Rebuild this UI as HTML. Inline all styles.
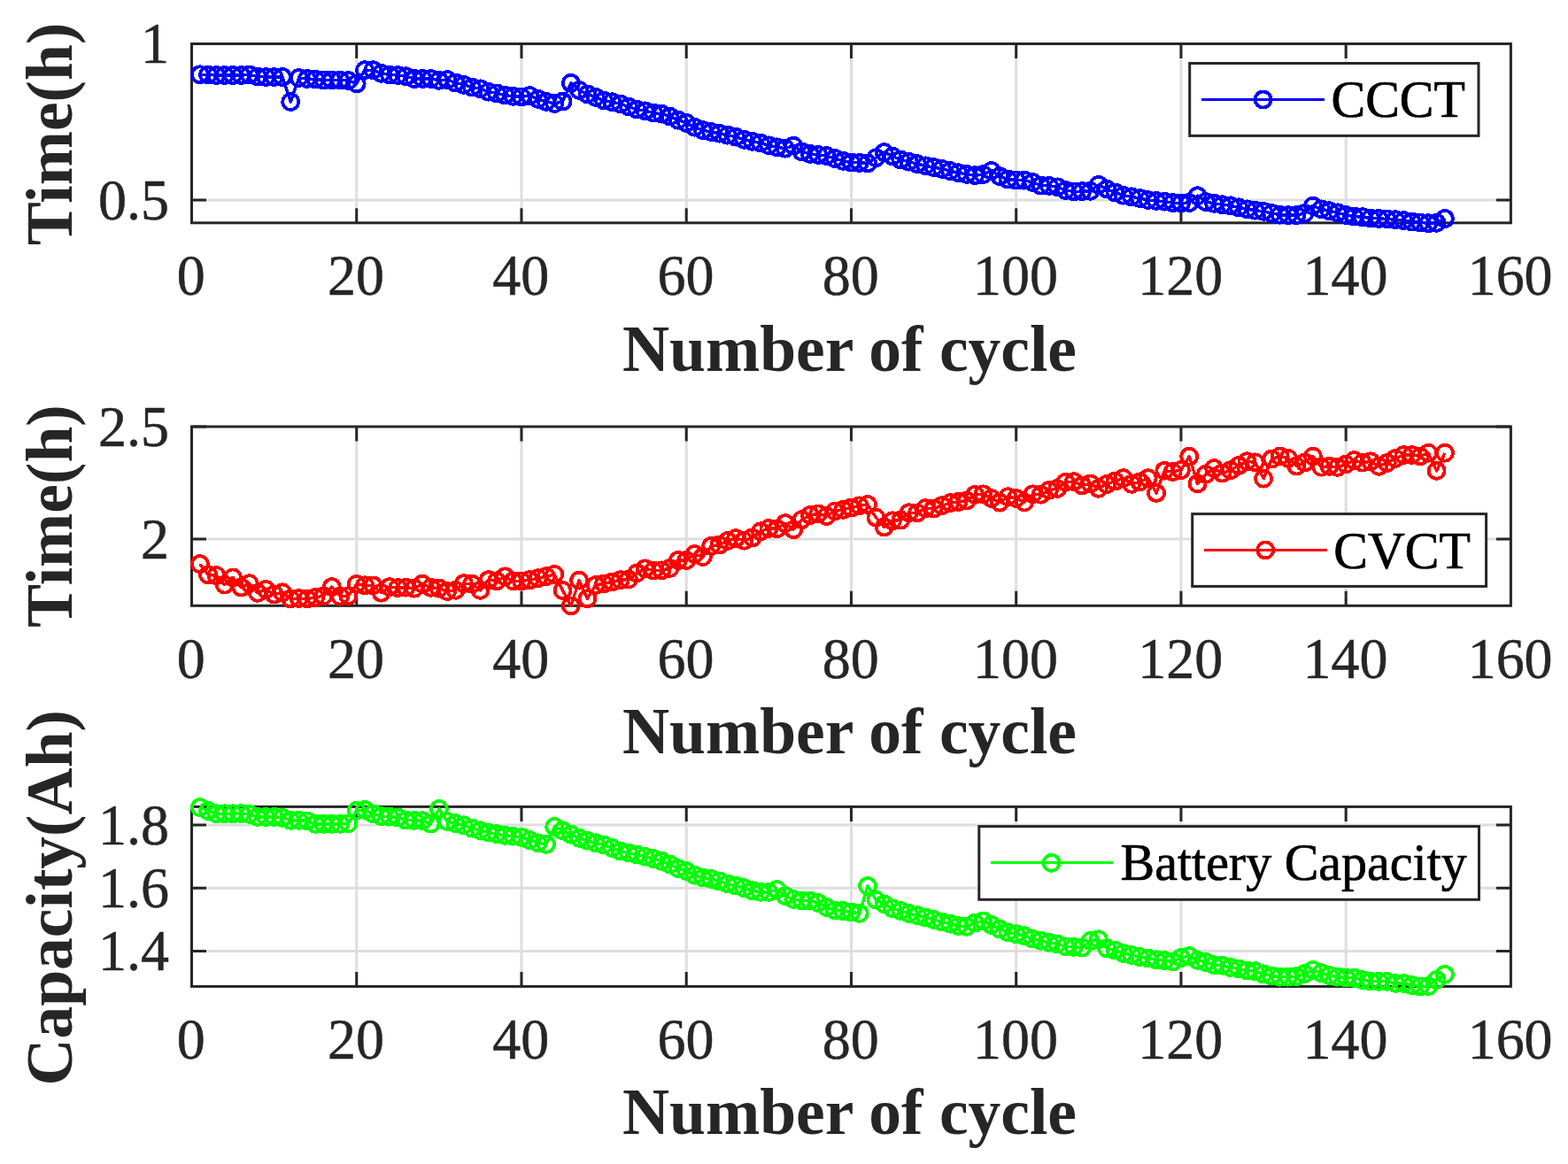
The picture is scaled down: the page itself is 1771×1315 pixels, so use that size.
<!DOCTYPE html><html><head><meta charset="utf-8"><style>html,body{margin:0;padding:0;background:#fff;overflow:hidden}svg{display:block}.t{font-family:"Liberation Serif","Times New Roman",serif;fill:#262626}.tk{stroke:#262626;stroke-width:0.5}.lg{stroke:#000;stroke-width:0.7}</style></head><body>
<svg width="1771" height="1315" viewBox="0 0 1771 1315">
<rect width="1771" height="1315" fill="#fff"/>
<path d="M402.74 49.50V251.80M588.98 49.50V251.80M775.22 49.50V251.80M961.46 49.50V251.80M1147.70 49.50V251.80M1333.94 49.50V251.80M1520.18 49.50V251.80M216.50 226.10H1706.42" stroke="#dedede" stroke-width="3" fill="none"/>
<path d="M402.74 251.80v-16.5M402.74 49.50v16.5M588.98 251.80v-16.5M588.98 49.50v16.5M775.22 251.80v-16.5M775.22 49.50v16.5M961.46 251.80v-16.5M961.46 49.50v16.5M1147.70 251.80v-16.5M1147.70 49.50v16.5M1333.94 251.80v-16.5M1333.94 49.50v16.5M1520.18 251.80v-16.5M1520.18 49.50v16.5M216.50 226.10h16.5M1706.42 226.10h-16.5M216.50 49.50h16.5M1706.42 49.50h-16.5" stroke="#262626" stroke-width="3" fill="none"/>
<rect x="216.50" y="49.50" width="1489.92" height="202.30" stroke="#262626" stroke-width="3" fill="none"/>
<text class="t tk" transform="translate(215.70,333.2) scale(1,1.035)" font-size="64" text-anchor="middle">0</text>
<text class="t tk" transform="translate(401.94,333.2) scale(1,1.035)" font-size="64" text-anchor="middle">20</text>
<text class="t tk" transform="translate(588.18,333.2) scale(1,1.035)" font-size="64" text-anchor="middle">40</text>
<text class="t tk" transform="translate(774.42,333.2) scale(1,1.035)" font-size="64" text-anchor="middle">60</text>
<text class="t tk" transform="translate(960.66,333.2) scale(1,1.035)" font-size="64" text-anchor="middle">80</text>
<text class="t tk" transform="translate(1146.90,333.2) scale(1,1.035)" font-size="64" text-anchor="middle">100</text>
<text class="t tk" transform="translate(1333.14,333.2) scale(1,1.035)" font-size="64" text-anchor="middle">120</text>
<text class="t tk" transform="translate(1519.38,333.2) scale(1,1.035)" font-size="64" text-anchor="middle">140</text>
<text class="t tk" transform="translate(1705.62,333.2) scale(1,1.035)" font-size="64" text-anchor="middle">160</text>
<text class="t tk" transform="translate(191,248.00) scale(1,1.04)" font-size="64" text-anchor="end">0.5</text>
<text class="t tk" transform="translate(191,71.40) scale(1,1.04)" font-size="64" text-anchor="end">1</text>
<text class="t" x="959.46" y="418.8" font-size="73.5" font-weight="bold" text-anchor="middle">Number of cycle</text>
<text class="t" transform="translate(81.0,151.45) rotate(-90)" x="0" y="0" font-size="73.5" font-weight="bold" text-anchor="middle">Time(h)</text>
<polyline points="225.81,84.30 235.12,84.50 244.44,85.00 253.75,85.00 263.06,85.00 272.37,85.00 281.68,84.50 291.00,86.50 300.31,87.00 309.62,87.00 318.93,87.00 328.24,115.00 337.56,88.00 346.87,89.00 356.18,89.50 365.49,90.50 374.80,90.50 384.12,90.50 393.43,91.00 402.74,94.40 412.05,79.20 421.36,79.20 430.68,82.80 439.99,84.50 449.30,85.00 458.61,86.20 467.92,89.00 477.24,89.00 486.55,89.00 495.86,90.80 505.17,90.10 514.48,93.50 523.80,95.80 533.11,98.60 542.42,100.30 551.73,103.70 561.04,105.40 570.36,107.60 579.67,108.80 588.98,109.40 598.29,108.10 607.60,111.80 616.92,114.90 626.23,116.90 635.54,114.60 644.85,93.80 654.16,101.90 663.48,106.40 672.79,109.80 682.10,113.50 691.41,115.20 700.72,117.40 710.04,120.50 719.35,123.60 728.66,125.30 737.97,127.60 747.28,128.70 756.60,131.50 765.91,135.70 775.22,138.90 784.53,143.70 793.84,147.10 803.16,149.00 812.47,150.70 821.78,152.70 831.09,154.70 840.40,157.80 849.72,159.80 859.03,161.50 868.34,164.30 877.65,166.30 886.96,167.70 896.28,164.70 905.59,171.40 914.90,173.90 924.21,175.00 933.52,176.10 942.84,179.00 952.15,181.80 961.46,183.60 970.77,183.90 980.08,184.40 989.40,178.20 998.71,172.10 1008.02,176.50 1017.33,180.50 1026.64,182.70 1035.96,185.20 1045.27,187.30 1054.58,189.00 1063.89,190.90 1073.20,193.10 1082.52,195.20 1091.83,196.90 1101.14,198.20 1110.45,197.10 1119.76,193.00 1129.08,199.10 1138.39,202.50 1147.70,203.50 1157.01,203.70 1166.32,206.00 1175.64,209.60 1184.95,209.90 1194.26,211.30 1203.57,215.00 1212.88,216.40 1222.20,216.10 1231.51,215.80 1240.82,208.90 1250.13,213.50 1259.44,217.50 1268.76,220.70 1278.07,222.30 1287.38,224.00 1296.69,226.00 1306.00,226.90 1315.32,227.70 1324.63,229.10 1333.94,229.50 1343.25,229.00 1352.56,221.20 1361.88,228.10 1371.19,229.80 1380.50,231.20 1389.81,232.30 1399.12,234.30 1408.44,236.30 1417.75,237.70 1427.06,238.80 1436.37,241.00 1445.68,242.70 1455.00,243.10 1464.31,243.10 1473.62,241.00 1482.93,232.50 1492.24,236.30 1501.56,238.20 1510.87,240.30 1520.18,243.00 1529.49,244.60 1538.80,245.20 1548.12,246.50 1557.43,246.90 1566.74,247.40 1576.05,248.20 1585.36,249.10 1594.68,250.50 1603.99,251.40 1613.30,252.20 1622.61,251.80 1631.92,247.00" stroke="#0000ff" stroke-width="3.4" fill="none" stroke-linejoin="round" shape-rendering="crispEdges"/>
<g stroke="#0000ff" stroke-width="3.8" fill="none" shape-rendering="crispEdges"><circle cx="225.81" cy="84.30" r="8.95"/><circle cx="235.12" cy="84.50" r="8.95"/><circle cx="244.44" cy="85.00" r="8.95"/><circle cx="253.75" cy="85.00" r="8.95"/><circle cx="263.06" cy="85.00" r="8.95"/><circle cx="272.37" cy="85.00" r="8.95"/><circle cx="281.68" cy="84.50" r="8.95"/><circle cx="291.00" cy="86.50" r="8.95"/><circle cx="300.31" cy="87.00" r="8.95"/><circle cx="309.62" cy="87.00" r="8.95"/><circle cx="318.93" cy="87.00" r="8.95"/><circle cx="328.24" cy="115.00" r="8.95"/><circle cx="337.56" cy="88.00" r="8.95"/><circle cx="346.87" cy="89.00" r="8.95"/><circle cx="356.18" cy="89.50" r="8.95"/><circle cx="365.49" cy="90.50" r="8.95"/><circle cx="374.80" cy="90.50" r="8.95"/><circle cx="384.12" cy="90.50" r="8.95"/><circle cx="393.43" cy="91.00" r="8.95"/><circle cx="402.74" cy="94.40" r="8.95"/><circle cx="412.05" cy="79.20" r="8.95"/><circle cx="421.36" cy="79.20" r="8.95"/><circle cx="430.68" cy="82.80" r="8.95"/><circle cx="439.99" cy="84.50" r="8.95"/><circle cx="449.30" cy="85.00" r="8.95"/><circle cx="458.61" cy="86.20" r="8.95"/><circle cx="467.92" cy="89.00" r="8.95"/><circle cx="477.24" cy="89.00" r="8.95"/><circle cx="486.55" cy="89.00" r="8.95"/><circle cx="495.86" cy="90.80" r="8.95"/><circle cx="505.17" cy="90.10" r="8.95"/><circle cx="514.48" cy="93.50" r="8.95"/><circle cx="523.80" cy="95.80" r="8.95"/><circle cx="533.11" cy="98.60" r="8.95"/><circle cx="542.42" cy="100.30" r="8.95"/><circle cx="551.73" cy="103.70" r="8.95"/><circle cx="561.04" cy="105.40" r="8.95"/><circle cx="570.36" cy="107.60" r="8.95"/><circle cx="579.67" cy="108.80" r="8.95"/><circle cx="588.98" cy="109.40" r="8.95"/><circle cx="598.29" cy="108.10" r="8.95"/><circle cx="607.60" cy="111.80" r="8.95"/><circle cx="616.92" cy="114.90" r="8.95"/><circle cx="626.23" cy="116.90" r="8.95"/><circle cx="635.54" cy="114.60" r="8.95"/><circle cx="644.85" cy="93.80" r="8.95"/><circle cx="654.16" cy="101.90" r="8.95"/><circle cx="663.48" cy="106.40" r="8.95"/><circle cx="672.79" cy="109.80" r="8.95"/><circle cx="682.10" cy="113.50" r="8.95"/><circle cx="691.41" cy="115.20" r="8.95"/><circle cx="700.72" cy="117.40" r="8.95"/><circle cx="710.04" cy="120.50" r="8.95"/><circle cx="719.35" cy="123.60" r="8.95"/><circle cx="728.66" cy="125.30" r="8.95"/><circle cx="737.97" cy="127.60" r="8.95"/><circle cx="747.28" cy="128.70" r="8.95"/><circle cx="756.60" cy="131.50" r="8.95"/><circle cx="765.91" cy="135.70" r="8.95"/><circle cx="775.22" cy="138.90" r="8.95"/><circle cx="784.53" cy="143.70" r="8.95"/><circle cx="793.84" cy="147.10" r="8.95"/><circle cx="803.16" cy="149.00" r="8.95"/><circle cx="812.47" cy="150.70" r="8.95"/><circle cx="821.78" cy="152.70" r="8.95"/><circle cx="831.09" cy="154.70" r="8.95"/><circle cx="840.40" cy="157.80" r="8.95"/><circle cx="849.72" cy="159.80" r="8.95"/><circle cx="859.03" cy="161.50" r="8.95"/><circle cx="868.34" cy="164.30" r="8.95"/><circle cx="877.65" cy="166.30" r="8.95"/><circle cx="886.96" cy="167.70" r="8.95"/><circle cx="896.28" cy="164.70" r="8.95"/><circle cx="905.59" cy="171.40" r="8.95"/><circle cx="914.90" cy="173.90" r="8.95"/><circle cx="924.21" cy="175.00" r="8.95"/><circle cx="933.52" cy="176.10" r="8.95"/><circle cx="942.84" cy="179.00" r="8.95"/><circle cx="952.15" cy="181.80" r="8.95"/><circle cx="961.46" cy="183.60" r="8.95"/><circle cx="970.77" cy="183.90" r="8.95"/><circle cx="980.08" cy="184.40" r="8.95"/><circle cx="989.40" cy="178.20" r="8.95"/><circle cx="998.71" cy="172.10" r="8.95"/><circle cx="1008.02" cy="176.50" r="8.95"/><circle cx="1017.33" cy="180.50" r="8.95"/><circle cx="1026.64" cy="182.70" r="8.95"/><circle cx="1035.96" cy="185.20" r="8.95"/><circle cx="1045.27" cy="187.30" r="8.95"/><circle cx="1054.58" cy="189.00" r="8.95"/><circle cx="1063.89" cy="190.90" r="8.95"/><circle cx="1073.20" cy="193.10" r="8.95"/><circle cx="1082.52" cy="195.20" r="8.95"/><circle cx="1091.83" cy="196.90" r="8.95"/><circle cx="1101.14" cy="198.20" r="8.95"/><circle cx="1110.45" cy="197.10" r="8.95"/><circle cx="1119.76" cy="193.00" r="8.95"/><circle cx="1129.08" cy="199.10" r="8.95"/><circle cx="1138.39" cy="202.50" r="8.95"/><circle cx="1147.70" cy="203.50" r="8.95"/><circle cx="1157.01" cy="203.70" r="8.95"/><circle cx="1166.32" cy="206.00" r="8.95"/><circle cx="1175.64" cy="209.60" r="8.95"/><circle cx="1184.95" cy="209.90" r="8.95"/><circle cx="1194.26" cy="211.30" r="8.95"/><circle cx="1203.57" cy="215.00" r="8.95"/><circle cx="1212.88" cy="216.40" r="8.95"/><circle cx="1222.20" cy="216.10" r="8.95"/><circle cx="1231.51" cy="215.80" r="8.95"/><circle cx="1240.82" cy="208.90" r="8.95"/><circle cx="1250.13" cy="213.50" r="8.95"/><circle cx="1259.44" cy="217.50" r="8.95"/><circle cx="1268.76" cy="220.70" r="8.95"/><circle cx="1278.07" cy="222.30" r="8.95"/><circle cx="1287.38" cy="224.00" r="8.95"/><circle cx="1296.69" cy="226.00" r="8.95"/><circle cx="1306.00" cy="226.90" r="8.95"/><circle cx="1315.32" cy="227.70" r="8.95"/><circle cx="1324.63" cy="229.10" r="8.95"/><circle cx="1333.94" cy="229.50" r="8.95"/><circle cx="1343.25" cy="229.00" r="8.95"/><circle cx="1352.56" cy="221.20" r="8.95"/><circle cx="1361.88" cy="228.10" r="8.95"/><circle cx="1371.19" cy="229.80" r="8.95"/><circle cx="1380.50" cy="231.20" r="8.95"/><circle cx="1389.81" cy="232.30" r="8.95"/><circle cx="1399.12" cy="234.30" r="8.95"/><circle cx="1408.44" cy="236.30" r="8.95"/><circle cx="1417.75" cy="237.70" r="8.95"/><circle cx="1427.06" cy="238.80" r="8.95"/><circle cx="1436.37" cy="241.00" r="8.95"/><circle cx="1445.68" cy="242.70" r="8.95"/><circle cx="1455.00" cy="243.10" r="8.95"/><circle cx="1464.31" cy="243.10" r="8.95"/><circle cx="1473.62" cy="241.00" r="8.95"/><circle cx="1482.93" cy="232.50" r="8.95"/><circle cx="1492.24" cy="236.30" r="8.95"/><circle cx="1501.56" cy="238.20" r="8.95"/><circle cx="1510.87" cy="240.30" r="8.95"/><circle cx="1520.18" cy="243.00" r="8.95"/><circle cx="1529.49" cy="244.60" r="8.95"/><circle cx="1538.80" cy="245.20" r="8.95"/><circle cx="1548.12" cy="246.50" r="8.95"/><circle cx="1557.43" cy="246.90" r="8.95"/><circle cx="1566.74" cy="247.40" r="8.95"/><circle cx="1576.05" cy="248.20" r="8.95"/><circle cx="1585.36" cy="249.10" r="8.95"/><circle cx="1594.68" cy="250.50" r="8.95"/><circle cx="1603.99" cy="251.40" r="8.95"/><circle cx="1613.30" cy="252.20" r="8.95"/><circle cx="1622.61" cy="251.80" r="8.95"/><circle cx="1631.92" cy="247.00" r="8.95"/></g>
<rect x="1343.7" y="71.5" width="326.30" height="81.90" fill="#fff" stroke="#262626" stroke-width="3"/>
<circle cx="1426.6" cy="112.5" r="8.95" stroke="#0000ff" stroke-width="3.8" fill="none" shape-rendering="crispEdges"/>
<path d="M1357 112.5H1496" stroke="#0000ff" stroke-width="3.4" shape-rendering="crispEdges"/>
 <text class="lg" transform="translate(1503.5,132.2) scale(1,1.03)" font-size="58" style="font-family:'Liberation Serif',serif" fill="#000">CCCT</text>
<path d="M402.74 482.00V684.30M588.98 482.00V684.30M775.22 482.00V684.30M961.46 482.00V684.30M1147.70 482.00V684.30M1333.94 482.00V684.30M1520.18 482.00V684.30M216.50 609.10H1706.42" stroke="#dedede" stroke-width="3" fill="none"/>
<path d="M402.74 684.30v-16.5M402.74 482.00v16.5M588.98 684.30v-16.5M588.98 482.00v16.5M775.22 684.30v-16.5M775.22 482.00v16.5M961.46 684.30v-16.5M961.46 482.00v16.5M1147.70 684.30v-16.5M1147.70 482.00v16.5M1333.94 684.30v-16.5M1333.94 482.00v16.5M1520.18 684.30v-16.5M1520.18 482.00v16.5M216.50 609.10h16.5M1706.42 609.10h-16.5M216.50 482.00h16.5M1706.42 482.00h-16.5" stroke="#262626" stroke-width="3" fill="none"/>
<rect x="216.50" y="482.00" width="1489.92" height="202.30" stroke="#262626" stroke-width="3" fill="none"/>
<text class="t tk" transform="translate(215.70,765.6) scale(1,1.035)" font-size="64" text-anchor="middle">0</text>
<text class="t tk" transform="translate(401.94,765.6) scale(1,1.035)" font-size="64" text-anchor="middle">20</text>
<text class="t tk" transform="translate(588.18,765.6) scale(1,1.035)" font-size="64" text-anchor="middle">40</text>
<text class="t tk" transform="translate(774.42,765.6) scale(1,1.035)" font-size="64" text-anchor="middle">60</text>
<text class="t tk" transform="translate(960.66,765.6) scale(1,1.035)" font-size="64" text-anchor="middle">80</text>
<text class="t tk" transform="translate(1146.90,765.6) scale(1,1.035)" font-size="64" text-anchor="middle">100</text>
<text class="t tk" transform="translate(1333.14,765.6) scale(1,1.035)" font-size="64" text-anchor="middle">120</text>
<text class="t tk" transform="translate(1519.38,765.6) scale(1,1.035)" font-size="64" text-anchor="middle">140</text>
<text class="t tk" transform="translate(1705.62,765.6) scale(1,1.035)" font-size="64" text-anchor="middle">160</text>
<text class="t tk" transform="translate(191,631.00) scale(1,1.04)" font-size="64" text-anchor="end">2</text>
<text class="t tk" transform="translate(191,503.90) scale(1,1.04)" font-size="64" text-anchor="end">2.5</text>
<text class="t" x="959.46" y="851.3" font-size="73.5" font-weight="bold" text-anchor="middle">Number of cycle</text>
<text class="t" transform="translate(81.0,583.15) rotate(-90)" x="0" y="0" font-size="73.5" font-weight="bold" text-anchor="middle">Time(h)</text>
<polyline points="225.81,637.10 235.12,649.40 244.44,650.10 253.75,660.60 263.06,652.40 272.37,663.60 281.68,659.20 291.00,669.80 300.31,665.90 309.62,671.50 318.93,669.30 328.24,676.50 337.56,676.00 346.87,676.50 356.18,674.90 365.49,673.20 374.80,663.10 384.12,673.70 393.43,673.20 402.74,660.00 412.05,661.30 421.36,661.40 430.68,669.70 439.99,663.10 449.30,664.10 458.61,663.70 467.92,664.70 477.24,659.70 486.55,663.80 495.86,664.70 505.17,668.00 514.48,666.80 523.80,659.20 533.11,659.70 542.42,666.80 551.73,655.20 561.04,656.30 570.36,651.30 579.67,656.40 588.98,656.40 598.29,655.20 607.60,653.20 616.92,651.20 626.23,648.90 635.54,667.10 644.85,684.40 654.16,655.70 663.48,676.20 672.79,661.00 682.10,659.40 691.41,657.40 700.72,655.20 710.04,654.60 719.35,647.40 728.66,642.30 737.97,644.60 747.28,644.30 756.60,642.00 765.91,633.00 775.22,633.00 784.53,626.10 793.84,629.00 803.16,617.00 812.47,615.60 821.78,611.00 831.09,608.10 840.40,610.70 849.72,607.40 859.03,600.30 868.34,596.90 877.65,597.30 886.96,591.20 896.28,598.30 905.59,587.10 914.90,582.00 924.21,580.40 933.52,583.00 942.84,577.50 952.15,575.80 961.46,573.50 970.77,571.30 980.08,570.00 989.40,584.70 998.71,595.50 1008.02,588.30 1017.33,587.50 1026.64,579.20 1035.96,579.40 1045.27,574.20 1054.58,574.50 1063.89,571.20 1073.20,568.10 1082.52,566.90 1091.83,565.60 1101.14,558.90 1110.45,558.30 1119.76,563.00 1129.08,567.70 1138.39,561.20 1147.70,563.00 1157.01,567.60 1166.32,558.30 1175.64,558.70 1184.95,553.80 1194.26,552.00 1203.57,544.70 1212.88,544.20 1222.20,548.40 1231.51,546.40 1240.82,551.80 1250.13,547.00 1259.44,543.60 1268.76,540.20 1278.07,546.80 1287.38,544.30 1296.69,540.20 1306.00,556.90 1315.32,531.70 1324.63,533.00 1333.94,531.00 1343.25,515.70 1352.56,546.40 1361.88,535.80 1371.19,529.10 1380.50,534.50 1389.81,531.20 1399.12,525.90 1408.44,521.20 1417.75,522.30 1427.06,540.70 1436.37,518.50 1445.68,515.50 1455.00,517.80 1464.31,526.60 1473.62,522.50 1482.93,515.50 1492.24,527.70 1501.56,526.80 1510.87,527.80 1520.18,524.50 1529.49,520.00 1538.80,522.60 1548.12,521.30 1557.43,526.80 1566.74,522.90 1576.05,517.80 1585.36,514.00 1594.68,514.00 1603.99,515.50 1613.30,511.70 1622.61,531.80 1631.92,511.70" stroke="#ff0000" stroke-width="3.4" fill="none" stroke-linejoin="round" shape-rendering="crispEdges"/>
<g stroke="#ff0000" stroke-width="3.8" fill="none" shape-rendering="crispEdges"><circle cx="225.81" cy="637.10" r="8.95"/><circle cx="235.12" cy="649.40" r="8.95"/><circle cx="244.44" cy="650.10" r="8.95"/><circle cx="253.75" cy="660.60" r="8.95"/><circle cx="263.06" cy="652.40" r="8.95"/><circle cx="272.37" cy="663.60" r="8.95"/><circle cx="281.68" cy="659.20" r="8.95"/><circle cx="291.00" cy="669.80" r="8.95"/><circle cx="300.31" cy="665.90" r="8.95"/><circle cx="309.62" cy="671.50" r="8.95"/><circle cx="318.93" cy="669.30" r="8.95"/><circle cx="328.24" cy="676.50" r="8.95"/><circle cx="337.56" cy="676.00" r="8.95"/><circle cx="346.87" cy="676.50" r="8.95"/><circle cx="356.18" cy="674.90" r="8.95"/><circle cx="365.49" cy="673.20" r="8.95"/><circle cx="374.80" cy="663.10" r="8.95"/><circle cx="384.12" cy="673.70" r="8.95"/><circle cx="393.43" cy="673.20" r="8.95"/><circle cx="402.74" cy="660.00" r="8.95"/><circle cx="412.05" cy="661.30" r="8.95"/><circle cx="421.36" cy="661.40" r="8.95"/><circle cx="430.68" cy="669.70" r="8.95"/><circle cx="439.99" cy="663.10" r="8.95"/><circle cx="449.30" cy="664.10" r="8.95"/><circle cx="458.61" cy="663.70" r="8.95"/><circle cx="467.92" cy="664.70" r="8.95"/><circle cx="477.24" cy="659.70" r="8.95"/><circle cx="486.55" cy="663.80" r="8.95"/><circle cx="495.86" cy="664.70" r="8.95"/><circle cx="505.17" cy="668.00" r="8.95"/><circle cx="514.48" cy="666.80" r="8.95"/><circle cx="523.80" cy="659.20" r="8.95"/><circle cx="533.11" cy="659.70" r="8.95"/><circle cx="542.42" cy="666.80" r="8.95"/><circle cx="551.73" cy="655.20" r="8.95"/><circle cx="561.04" cy="656.30" r="8.95"/><circle cx="570.36" cy="651.30" r="8.95"/><circle cx="579.67" cy="656.40" r="8.95"/><circle cx="588.98" cy="656.40" r="8.95"/><circle cx="598.29" cy="655.20" r="8.95"/><circle cx="607.60" cy="653.20" r="8.95"/><circle cx="616.92" cy="651.20" r="8.95"/><circle cx="626.23" cy="648.90" r="8.95"/><circle cx="635.54" cy="667.10" r="8.95"/><circle cx="644.85" cy="684.40" r="8.95"/><circle cx="654.16" cy="655.70" r="8.95"/><circle cx="663.48" cy="676.20" r="8.95"/><circle cx="672.79" cy="661.00" r="8.95"/><circle cx="682.10" cy="659.40" r="8.95"/><circle cx="691.41" cy="657.40" r="8.95"/><circle cx="700.72" cy="655.20" r="8.95"/><circle cx="710.04" cy="654.60" r="8.95"/><circle cx="719.35" cy="647.40" r="8.95"/><circle cx="728.66" cy="642.30" r="8.95"/><circle cx="737.97" cy="644.60" r="8.95"/><circle cx="747.28" cy="644.30" r="8.95"/><circle cx="756.60" cy="642.00" r="8.95"/><circle cx="765.91" cy="633.00" r="8.95"/><circle cx="775.22" cy="633.00" r="8.95"/><circle cx="784.53" cy="626.10" r="8.95"/><circle cx="793.84" cy="629.00" r="8.95"/><circle cx="803.16" cy="617.00" r="8.95"/><circle cx="812.47" cy="615.60" r="8.95"/><circle cx="821.78" cy="611.00" r="8.95"/><circle cx="831.09" cy="608.10" r="8.95"/><circle cx="840.40" cy="610.70" r="8.95"/><circle cx="849.72" cy="607.40" r="8.95"/><circle cx="859.03" cy="600.30" r="8.95"/><circle cx="868.34" cy="596.90" r="8.95"/><circle cx="877.65" cy="597.30" r="8.95"/><circle cx="886.96" cy="591.20" r="8.95"/><circle cx="896.28" cy="598.30" r="8.95"/><circle cx="905.59" cy="587.10" r="8.95"/><circle cx="914.90" cy="582.00" r="8.95"/><circle cx="924.21" cy="580.40" r="8.95"/><circle cx="933.52" cy="583.00" r="8.95"/><circle cx="942.84" cy="577.50" r="8.95"/><circle cx="952.15" cy="575.80" r="8.95"/><circle cx="961.46" cy="573.50" r="8.95"/><circle cx="970.77" cy="571.30" r="8.95"/><circle cx="980.08" cy="570.00" r="8.95"/><circle cx="989.40" cy="584.70" r="8.95"/><circle cx="998.71" cy="595.50" r="8.95"/><circle cx="1008.02" cy="588.30" r="8.95"/><circle cx="1017.33" cy="587.50" r="8.95"/><circle cx="1026.64" cy="579.20" r="8.95"/><circle cx="1035.96" cy="579.40" r="8.95"/><circle cx="1045.27" cy="574.20" r="8.95"/><circle cx="1054.58" cy="574.50" r="8.95"/><circle cx="1063.89" cy="571.20" r="8.95"/><circle cx="1073.20" cy="568.10" r="8.95"/><circle cx="1082.52" cy="566.90" r="8.95"/><circle cx="1091.83" cy="565.60" r="8.95"/><circle cx="1101.14" cy="558.90" r="8.95"/><circle cx="1110.45" cy="558.30" r="8.95"/><circle cx="1119.76" cy="563.00" r="8.95"/><circle cx="1129.08" cy="567.70" r="8.95"/><circle cx="1138.39" cy="561.20" r="8.95"/><circle cx="1147.70" cy="563.00" r="8.95"/><circle cx="1157.01" cy="567.60" r="8.95"/><circle cx="1166.32" cy="558.30" r="8.95"/><circle cx="1175.64" cy="558.70" r="8.95"/><circle cx="1184.95" cy="553.80" r="8.95"/><circle cx="1194.26" cy="552.00" r="8.95"/><circle cx="1203.57" cy="544.70" r="8.95"/><circle cx="1212.88" cy="544.20" r="8.95"/><circle cx="1222.20" cy="548.40" r="8.95"/><circle cx="1231.51" cy="546.40" r="8.95"/><circle cx="1240.82" cy="551.80" r="8.95"/><circle cx="1250.13" cy="547.00" r="8.95"/><circle cx="1259.44" cy="543.60" r="8.95"/><circle cx="1268.76" cy="540.20" r="8.95"/><circle cx="1278.07" cy="546.80" r="8.95"/><circle cx="1287.38" cy="544.30" r="8.95"/><circle cx="1296.69" cy="540.20" r="8.95"/><circle cx="1306.00" cy="556.90" r="8.95"/><circle cx="1315.32" cy="531.70" r="8.95"/><circle cx="1324.63" cy="533.00" r="8.95"/><circle cx="1333.94" cy="531.00" r="8.95"/><circle cx="1343.25" cy="515.70" r="8.95"/><circle cx="1352.56" cy="546.40" r="8.95"/><circle cx="1361.88" cy="535.80" r="8.95"/><circle cx="1371.19" cy="529.10" r="8.95"/><circle cx="1380.50" cy="534.50" r="8.95"/><circle cx="1389.81" cy="531.20" r="8.95"/><circle cx="1399.12" cy="525.90" r="8.95"/><circle cx="1408.44" cy="521.20" r="8.95"/><circle cx="1417.75" cy="522.30" r="8.95"/><circle cx="1427.06" cy="540.70" r="8.95"/><circle cx="1436.37" cy="518.50" r="8.95"/><circle cx="1445.68" cy="515.50" r="8.95"/><circle cx="1455.00" cy="517.80" r="8.95"/><circle cx="1464.31" cy="526.60" r="8.95"/><circle cx="1473.62" cy="522.50" r="8.95"/><circle cx="1482.93" cy="515.50" r="8.95"/><circle cx="1492.24" cy="527.70" r="8.95"/><circle cx="1501.56" cy="526.80" r="8.95"/><circle cx="1510.87" cy="527.80" r="8.95"/><circle cx="1520.18" cy="524.50" r="8.95"/><circle cx="1529.49" cy="520.00" r="8.95"/><circle cx="1538.80" cy="522.60" r="8.95"/><circle cx="1548.12" cy="521.30" r="8.95"/><circle cx="1557.43" cy="526.80" r="8.95"/><circle cx="1566.74" cy="522.90" r="8.95"/><circle cx="1576.05" cy="517.80" r="8.95"/><circle cx="1585.36" cy="514.00" r="8.95"/><circle cx="1594.68" cy="514.00" r="8.95"/><circle cx="1603.99" cy="515.50" r="8.95"/><circle cx="1613.30" cy="511.70" r="8.95"/><circle cx="1622.61" cy="531.80" r="8.95"/><circle cx="1631.92" cy="511.70" r="8.95"/></g>
<rect x="1346.7" y="580.6" width="331.90" height="81.80" fill="#fff" stroke="#262626" stroke-width="3"/>
<circle cx="1429.2" cy="621.4" r="8.95" stroke="#ff0000" stroke-width="3.8" fill="none" shape-rendering="crispEdges"/>
<path d="M1360.1 621.4H1498.7" stroke="#ff0000" stroke-width="3.4" shape-rendering="crispEdges"/>
 <text class="lg" transform="translate(1506.3,641.6) scale(1,1.03)" font-size="58" style="font-family:'Liberation Serif',serif" fill="#000">CVCT</text>
<path d="M402.74 911.40V1114.40M588.98 911.40V1114.40M775.22 911.40V1114.40M961.46 911.40V1114.40M1147.70 911.40V1114.40M1333.94 911.40V1114.40M1520.18 911.40V1114.40M216.50 1074.40H1706.42M216.50 1003.20H1706.42M216.50 932.00H1706.42" stroke="#dedede" stroke-width="3" fill="none"/>
<path d="M402.74 1114.40v-16.5M402.74 911.40v16.5M588.98 1114.40v-16.5M588.98 911.40v16.5M775.22 1114.40v-16.5M775.22 911.40v16.5M961.46 1114.40v-16.5M961.46 911.40v16.5M1147.70 1114.40v-16.5M1147.70 911.40v16.5M1333.94 1114.40v-16.5M1333.94 911.40v16.5M1520.18 1114.40v-16.5M1520.18 911.40v16.5M216.50 1074.40h16.5M1706.42 1074.40h-16.5M216.50 1003.20h16.5M1706.42 1003.20h-16.5M216.50 932.00h16.5M1706.42 932.00h-16.5" stroke="#262626" stroke-width="3" fill="none"/>
<rect x="216.50" y="911.40" width="1489.92" height="203.00" stroke="#262626" stroke-width="3" fill="none"/>
<text class="t tk" transform="translate(215.70,1195.6) scale(1,1.035)" font-size="64" text-anchor="middle">0</text>
<text class="t tk" transform="translate(401.94,1195.6) scale(1,1.035)" font-size="64" text-anchor="middle">20</text>
<text class="t tk" transform="translate(588.18,1195.6) scale(1,1.035)" font-size="64" text-anchor="middle">40</text>
<text class="t tk" transform="translate(774.42,1195.6) scale(1,1.035)" font-size="64" text-anchor="middle">60</text>
<text class="t tk" transform="translate(960.66,1195.6) scale(1,1.035)" font-size="64" text-anchor="middle">80</text>
<text class="t tk" transform="translate(1146.90,1195.6) scale(1,1.035)" font-size="64" text-anchor="middle">100</text>
<text class="t tk" transform="translate(1333.14,1195.6) scale(1,1.035)" font-size="64" text-anchor="middle">120</text>
<text class="t tk" transform="translate(1519.38,1195.6) scale(1,1.035)" font-size="64" text-anchor="middle">140</text>
<text class="t tk" transform="translate(1705.62,1195.6) scale(1,1.035)" font-size="64" text-anchor="middle">160</text>
<text class="t tk" transform="translate(191,1096.30) scale(1,1.04)" font-size="64" text-anchor="end">1.4</text>
<text class="t tk" transform="translate(191,1025.10) scale(1,1.04)" font-size="64" text-anchor="end">1.6</text>
<text class="t tk" transform="translate(191,953.90) scale(1,1.04)" font-size="64" text-anchor="end">1.8</text>
<text class="t" x="959.46" y="1281.3" font-size="73.5" font-weight="bold" text-anchor="middle">Number of cycle</text>
<text class="t" transform="translate(81.0,1014.30) rotate(-90)" x="0" y="0" font-size="73.5" font-weight="bold" text-anchor="middle">Capacity(Ah)</text>
<polyline points="225.81,912.10 235.12,916.00 244.44,919.30 253.75,919.30 263.06,919.30 272.37,919.00 281.68,919.80 291.00,922.90 300.31,922.90 309.62,922.90 318.93,923.80 328.24,926.80 337.56,926.80 346.87,927.40 356.18,930.80 365.49,930.80 374.80,930.80 384.12,930.80 393.43,930.30 402.74,915.70 412.05,914.90 421.36,919.30 430.68,922.10 439.99,922.70 449.30,923.50 458.61,926.60 467.92,926.80 477.24,927.20 486.55,930.50 495.86,914.00 505.17,928.00 514.48,930.20 523.80,932.30 533.11,935.70 542.42,938.20 551.73,940.40 561.04,942.10 570.36,943.80 579.67,944.70 588.98,945.80 598.29,949.10 607.60,952.30 616.92,953.80 626.23,934.00 635.54,938.30 644.85,942.70 654.16,946.80 663.48,949.70 672.79,952.30 682.10,954.50 691.41,957.90 700.72,961.50 710.04,963.60 719.35,965.50 728.66,967.70 737.97,970.00 747.28,972.80 756.60,976.50 765.91,981.10 775.22,984.00 784.53,988.70 793.84,991.50 803.16,992.90 812.47,995.50 821.78,998.50 831.09,1000.60 840.40,1003.10 849.72,1006.20 859.03,1007.90 868.34,1007.90 877.65,1005.00 886.96,1012.10 896.28,1016.00 905.59,1017.50 914.90,1017.70 924.21,1020.00 933.52,1024.90 942.84,1028.50 952.15,1029.00 961.46,1030.50 970.77,1031.80 980.08,1000.90 989.40,1016.70 998.71,1021.40 1008.02,1026.20 1017.33,1029.00 1026.64,1031.90 1035.96,1034.10 1045.27,1036.40 1054.58,1038.90 1063.89,1041.50 1073.20,1043.70 1082.52,1046.00 1091.83,1046.80 1101.14,1042.60 1110.45,1040.40 1119.76,1044.90 1129.08,1049.60 1138.39,1053.30 1147.70,1055.20 1157.01,1057.20 1166.32,1060.60 1175.64,1062.80 1184.95,1064.80 1194.26,1066.40 1203.57,1069.30 1212.88,1069.80 1222.20,1070.60 1231.51,1063.00 1240.82,1061.30 1250.13,1071.30 1259.44,1073.60 1268.76,1077.00 1278.07,1078.90 1287.38,1081.10 1296.69,1082.60 1306.00,1084.30 1315.32,1085.10 1324.63,1086.40 1333.94,1082.00 1343.25,1080.10 1352.56,1084.80 1361.88,1087.00 1371.19,1090.20 1380.50,1090.70 1389.81,1093.00 1399.12,1094.40 1408.44,1096.40 1417.75,1097.20 1427.06,1100.30 1436.37,1102.60 1445.68,1103.70 1455.00,1103.70 1464.31,1103.20 1473.62,1100.00 1482.93,1095.90 1492.24,1099.20 1501.56,1102.00 1510.87,1103.70 1520.18,1104.50 1529.49,1104.90 1538.80,1107.10 1548.12,1108.60 1557.43,1108.80 1566.74,1108.80 1576.05,1110.80 1585.36,1111.00 1594.68,1113.10 1603.99,1114.40 1613.30,1114.10 1622.61,1107.00 1631.92,1100.80" stroke="#00ff00" stroke-width="3.4" fill="none" stroke-linejoin="round" shape-rendering="crispEdges"/>
<g stroke="#00ff00" stroke-width="3.8" fill="none" shape-rendering="crispEdges"><circle cx="225.81" cy="912.10" r="8.95"/><circle cx="235.12" cy="916.00" r="8.95"/><circle cx="244.44" cy="919.30" r="8.95"/><circle cx="253.75" cy="919.30" r="8.95"/><circle cx="263.06" cy="919.30" r="8.95"/><circle cx="272.37" cy="919.00" r="8.95"/><circle cx="281.68" cy="919.80" r="8.95"/><circle cx="291.00" cy="922.90" r="8.95"/><circle cx="300.31" cy="922.90" r="8.95"/><circle cx="309.62" cy="922.90" r="8.95"/><circle cx="318.93" cy="923.80" r="8.95"/><circle cx="328.24" cy="926.80" r="8.95"/><circle cx="337.56" cy="926.80" r="8.95"/><circle cx="346.87" cy="927.40" r="8.95"/><circle cx="356.18" cy="930.80" r="8.95"/><circle cx="365.49" cy="930.80" r="8.95"/><circle cx="374.80" cy="930.80" r="8.95"/><circle cx="384.12" cy="930.80" r="8.95"/><circle cx="393.43" cy="930.30" r="8.95"/><circle cx="402.74" cy="915.70" r="8.95"/><circle cx="412.05" cy="914.90" r="8.95"/><circle cx="421.36" cy="919.30" r="8.95"/><circle cx="430.68" cy="922.10" r="8.95"/><circle cx="439.99" cy="922.70" r="8.95"/><circle cx="449.30" cy="923.50" r="8.95"/><circle cx="458.61" cy="926.60" r="8.95"/><circle cx="467.92" cy="926.80" r="8.95"/><circle cx="477.24" cy="927.20" r="8.95"/><circle cx="486.55" cy="930.50" r="8.95"/><circle cx="495.86" cy="914.00" r="8.95"/><circle cx="505.17" cy="928.00" r="8.95"/><circle cx="514.48" cy="930.20" r="8.95"/><circle cx="523.80" cy="932.30" r="8.95"/><circle cx="533.11" cy="935.70" r="8.95"/><circle cx="542.42" cy="938.20" r="8.95"/><circle cx="551.73" cy="940.40" r="8.95"/><circle cx="561.04" cy="942.10" r="8.95"/><circle cx="570.36" cy="943.80" r="8.95"/><circle cx="579.67" cy="944.70" r="8.95"/><circle cx="588.98" cy="945.80" r="8.95"/><circle cx="598.29" cy="949.10" r="8.95"/><circle cx="607.60" cy="952.30" r="8.95"/><circle cx="616.92" cy="953.80" r="8.95"/><circle cx="626.23" cy="934.00" r="8.95"/><circle cx="635.54" cy="938.30" r="8.95"/><circle cx="644.85" cy="942.70" r="8.95"/><circle cx="654.16" cy="946.80" r="8.95"/><circle cx="663.48" cy="949.70" r="8.95"/><circle cx="672.79" cy="952.30" r="8.95"/><circle cx="682.10" cy="954.50" r="8.95"/><circle cx="691.41" cy="957.90" r="8.95"/><circle cx="700.72" cy="961.50" r="8.95"/><circle cx="710.04" cy="963.60" r="8.95"/><circle cx="719.35" cy="965.50" r="8.95"/><circle cx="728.66" cy="967.70" r="8.95"/><circle cx="737.97" cy="970.00" r="8.95"/><circle cx="747.28" cy="972.80" r="8.95"/><circle cx="756.60" cy="976.50" r="8.95"/><circle cx="765.91" cy="981.10" r="8.95"/><circle cx="775.22" cy="984.00" r="8.95"/><circle cx="784.53" cy="988.70" r="8.95"/><circle cx="793.84" cy="991.50" r="8.95"/><circle cx="803.16" cy="992.90" r="8.95"/><circle cx="812.47" cy="995.50" r="8.95"/><circle cx="821.78" cy="998.50" r="8.95"/><circle cx="831.09" cy="1000.60" r="8.95"/><circle cx="840.40" cy="1003.10" r="8.95"/><circle cx="849.72" cy="1006.20" r="8.95"/><circle cx="859.03" cy="1007.90" r="8.95"/><circle cx="868.34" cy="1007.90" r="8.95"/><circle cx="877.65" cy="1005.00" r="8.95"/><circle cx="886.96" cy="1012.10" r="8.95"/><circle cx="896.28" cy="1016.00" r="8.95"/><circle cx="905.59" cy="1017.50" r="8.95"/><circle cx="914.90" cy="1017.70" r="8.95"/><circle cx="924.21" cy="1020.00" r="8.95"/><circle cx="933.52" cy="1024.90" r="8.95"/><circle cx="942.84" cy="1028.50" r="8.95"/><circle cx="952.15" cy="1029.00" r="8.95"/><circle cx="961.46" cy="1030.50" r="8.95"/><circle cx="970.77" cy="1031.80" r="8.95"/><circle cx="980.08" cy="1000.90" r="8.95"/><circle cx="989.40" cy="1016.70" r="8.95"/><circle cx="998.71" cy="1021.40" r="8.95"/><circle cx="1008.02" cy="1026.20" r="8.95"/><circle cx="1017.33" cy="1029.00" r="8.95"/><circle cx="1026.64" cy="1031.90" r="8.95"/><circle cx="1035.96" cy="1034.10" r="8.95"/><circle cx="1045.27" cy="1036.40" r="8.95"/><circle cx="1054.58" cy="1038.90" r="8.95"/><circle cx="1063.89" cy="1041.50" r="8.95"/><circle cx="1073.20" cy="1043.70" r="8.95"/><circle cx="1082.52" cy="1046.00" r="8.95"/><circle cx="1091.83" cy="1046.80" r="8.95"/><circle cx="1101.14" cy="1042.60" r="8.95"/><circle cx="1110.45" cy="1040.40" r="8.95"/><circle cx="1119.76" cy="1044.90" r="8.95"/><circle cx="1129.08" cy="1049.60" r="8.95"/><circle cx="1138.39" cy="1053.30" r="8.95"/><circle cx="1147.70" cy="1055.20" r="8.95"/><circle cx="1157.01" cy="1057.20" r="8.95"/><circle cx="1166.32" cy="1060.60" r="8.95"/><circle cx="1175.64" cy="1062.80" r="8.95"/><circle cx="1184.95" cy="1064.80" r="8.95"/><circle cx="1194.26" cy="1066.40" r="8.95"/><circle cx="1203.57" cy="1069.30" r="8.95"/><circle cx="1212.88" cy="1069.80" r="8.95"/><circle cx="1222.20" cy="1070.60" r="8.95"/><circle cx="1231.51" cy="1063.00" r="8.95"/><circle cx="1240.82" cy="1061.30" r="8.95"/><circle cx="1250.13" cy="1071.30" r="8.95"/><circle cx="1259.44" cy="1073.60" r="8.95"/><circle cx="1268.76" cy="1077.00" r="8.95"/><circle cx="1278.07" cy="1078.90" r="8.95"/><circle cx="1287.38" cy="1081.10" r="8.95"/><circle cx="1296.69" cy="1082.60" r="8.95"/><circle cx="1306.00" cy="1084.30" r="8.95"/><circle cx="1315.32" cy="1085.10" r="8.95"/><circle cx="1324.63" cy="1086.40" r="8.95"/><circle cx="1333.94" cy="1082.00" r="8.95"/><circle cx="1343.25" cy="1080.10" r="8.95"/><circle cx="1352.56" cy="1084.80" r="8.95"/><circle cx="1361.88" cy="1087.00" r="8.95"/><circle cx="1371.19" cy="1090.20" r="8.95"/><circle cx="1380.50" cy="1090.70" r="8.95"/><circle cx="1389.81" cy="1093.00" r="8.95"/><circle cx="1399.12" cy="1094.40" r="8.95"/><circle cx="1408.44" cy="1096.40" r="8.95"/><circle cx="1417.75" cy="1097.20" r="8.95"/><circle cx="1427.06" cy="1100.30" r="8.95"/><circle cx="1436.37" cy="1102.60" r="8.95"/><circle cx="1445.68" cy="1103.70" r="8.95"/><circle cx="1455.00" cy="1103.70" r="8.95"/><circle cx="1464.31" cy="1103.20" r="8.95"/><circle cx="1473.62" cy="1100.00" r="8.95"/><circle cx="1482.93" cy="1095.90" r="8.95"/><circle cx="1492.24" cy="1099.20" r="8.95"/><circle cx="1501.56" cy="1102.00" r="8.95"/><circle cx="1510.87" cy="1103.70" r="8.95"/><circle cx="1520.18" cy="1104.50" r="8.95"/><circle cx="1529.49" cy="1104.90" r="8.95"/><circle cx="1538.80" cy="1107.10" r="8.95"/><circle cx="1548.12" cy="1108.60" r="8.95"/><circle cx="1557.43" cy="1108.80" r="8.95"/><circle cx="1566.74" cy="1108.80" r="8.95"/><circle cx="1576.05" cy="1110.80" r="8.95"/><circle cx="1585.36" cy="1111.00" r="8.95"/><circle cx="1594.68" cy="1113.10" r="8.95"/><circle cx="1603.99" cy="1114.40" r="8.95"/><circle cx="1613.30" cy="1114.10" r="8.95"/><circle cx="1622.61" cy="1107.00" r="8.95"/><circle cx="1631.92" cy="1100.80" r="8.95"/></g>
<rect x="1105.8" y="933.6" width="564.70" height="82.70" fill="#fff" stroke="#262626" stroke-width="3"/>
<circle cx="1187.6" cy="974.8" r="8.95" stroke="#00ff00" stroke-width="3.8" fill="none" shape-rendering="crispEdges"/>
<path d="M1118.9 974.5H1257.1" stroke="#00ff00" stroke-width="3.4" shape-rendering="crispEdges"/>
 <text class="lg" transform="translate(1265.5,993.9) scale(1,1.03)" font-size="58" style="font-family:'Liberation Serif',serif" fill="#000">Battery Capacity</text>
</svg></body></html>
